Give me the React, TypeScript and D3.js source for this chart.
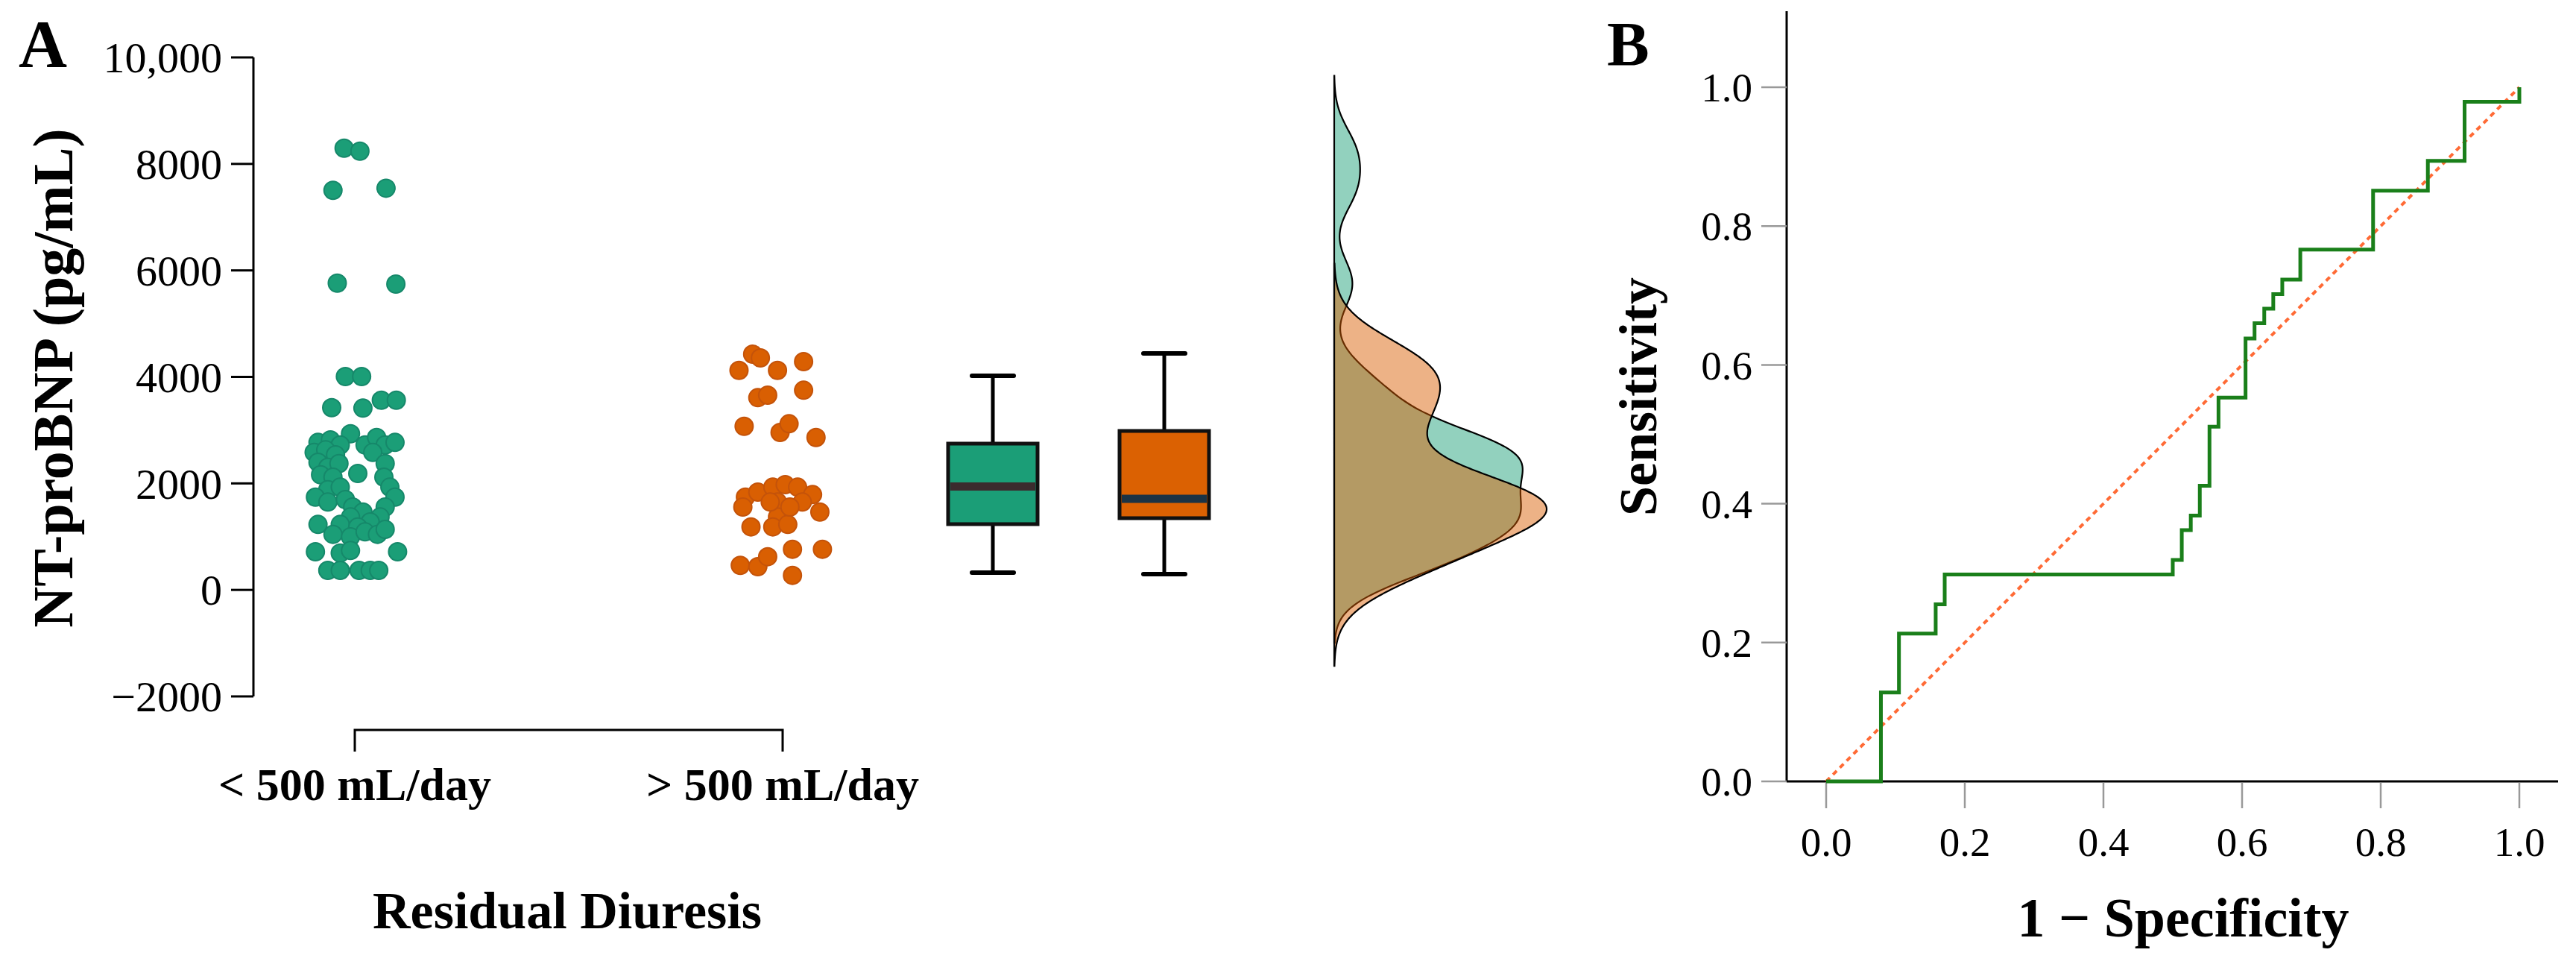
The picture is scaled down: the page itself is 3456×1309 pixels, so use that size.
import React from "react";
import * as d3 from "d3";

const W = 3456;
const H = 1309;
const FONT = "'Liberation Serif', 'Times New Roman', serif";

const GROUPS = ["< 500 mL/day", "> 500 mL/day"];
const GREEN = "#1b9e77";
const ORANGE = "#d95f02";

// strip points, jitter is in fractions of the category step
const lowJitter = [
  -0.025, 0.012, -0.051, 0.073, -0.041, 0.096,
  -0.022, 0.016, 0.062, 0.097, -0.054, 0.019, -0.01,
  -0.086, -0.057, -0.034, -0.095, -0.068, -0.045, -0.086, -0.063, -0.037, -0.08, -0.051,
  0.024, 0.051, 0.071, 0.094, 0.042,
  0.071, 0.068, 0.082, 0.094, 0.071, 0.059,
  0.007,
  -0.063, -0.034, -0.092, -0.063, -0.022, -0.005, 0.019, -0.01, 0.036, -0.034, 0.007,
  -0.051, -0.01, 0.024, 0.053, 0.071,
  -0.086,
  -0.092, -0.034, -0.01, 0.1,
  -0.063, -0.034, 0.01, 0.036, 0.056,
];
const lowValues = [
  8296, 8240, 7504, 7544, 5760, 5744,
  4007, 4007, 3563, 3563, 3423, 3414, 2933,
  2770, 2817, 2723, 2583, 2630, 2537, 2397, 2303, 2373, 2163, 2117,
  2723, 2863, 2723, 2770, 2583,
  2373, 2117, 1930, 1743, 1557, 1370,
  2187,
  1883, 1930, 1743, 1650, 1697, 1557, 1463, 1370, 1277, 1230, 1183,
  1043, 997, 1090, 1043, 1137,
  1230,
  717, 693, 740, 717,
  367, 367, 367, 367, 367,
];

const highJitter = [
  -0.07, -0.052, -0.102, -0.012, 0.049,
  -0.058, -0.035, 0.049,
  -0.09, -0.006, 0.015, 0.078,
  -0.087, -0.058, -0.023, 0.006, 0.035, 0.07, 0.087, -0.093, -0.012, -0.012,
  -0.023, 0.012, 0.046, -0.074, -0.029, 0.017,
  0.023, 0.093, -0.099, -0.058, -0.035, 0.023,
];
const highValues = [
  4427, 4357, 4123, 4123, 4287,
  3610, 3657, 3750,
  3073, 2957, 3120, 2863,
  1743, 1837, 1930, 1977, 1930, 1790, 1463, 1557, 1650, 1370,
  1183, 1230, 1650, 1183, 1650, 1557,
  763, 763, 460, 437, 623, 273,
];

// box plot statistics
const boxMin = [325, 297];
const boxQ1 = [1235, 1347];
const boxMedian = [1942, 1711];
const boxQ3 = [2747, 2985];
const boxMax = [4021, 4441];
const boxFill = [GREEN, "#db6102"];
const medianColor = ["#3b2b2e", "#1b3345"];

const yTicksA = [-2000, 0, 2000, 4000, 6000, 8000, 10000];
const yTickLabelsA = ["\u22122000", "0", "2000", "4000", "6000", "8000", "10,000"];

// ROC corner points (stepped after)
const rocFpr = [
  0, 0.079, 0.105, 0.158, 0.171, 0.5, 0.513, 0.526, 0.539, 0.553, 0.566,
  0.605, 0.618, 0.632, 0.645, 0.658, 0.684, 0.789, 0.868, 0.921, 1.0,
];
const rocTpr = [
  0, 0.128, 0.213, 0.255, 0.298, 0.319, 0.362, 0.383, 0.426, 0.511, 0.553,
  0.638, 0.66, 0.681, 0.702, 0.723, 0.766, 0.851, 0.894, 0.979, 1.0,
];
const rocTicks = [0, 0.2, 0.4, 0.6, 0.8, 1.0];

// gaussian kde, bandwidth like R's bw.nrd0, cut = 3
function kde(values: number[]): [number, number][] {
  const sorted = [...values].sort(d3.ascending);
  const n = values.length;
  const sd = d3.deviation(values) as number;
  const iqr = (d3.quantile(sorted, 0.75) as number) - (d3.quantile(sorted, 0.25) as number);
  const bw = 0.9 * Math.min(sd, iqr / 1.34) * Math.pow(n, -0.2);
  const lo = (d3.min(values) as number) - 3 * bw;
  const hi = (d3.max(values) as number) + 3 * bw;
  return d3.range(513).map((i) => {
    const y = lo + ((hi - lo) * i) / 512;
    const dens =
      d3.mean(values, (v) => Math.exp(-0.5 * ((y - v) / bw) ** 2) / Math.sqrt(2 * Math.PI)) as number;
    return [y, dens / bw];
  });
}

export default function App() {
  // panel A scales
  const yA = d3.scaleLinear().domain([-2000, 10000]).range([934, 77]);
  const xCat = d3.scalePoint<string>().domain(GROUPS).range([476, 1050]);
  const step = xCat.step();
  const xBox = d3.scalePoint<string>().domain(GROUPS).range([1332, 1562]);
  const axisX = 340;
  const boxHalf = 60;
  const capHalf = 28;
  const densBase = 1790;

  const lowDens = kde(lowValues);
  const highDens = kde(highValues);
  const densMax = d3.max([...lowDens, ...highDens], (d) => d[1]) as number;
  const wDens = d3.scaleLinear().domain([0, densMax]).range([0, 285]);
  const densArea = d3
    .area<[number, number]>()
    .y((d) => yA(d[0]))
    .x0(densBase)
    .x1((d) => densBase + wDens(d[1]))
    .curve(d3.curveMonotoneY);

  // panel B scales
  const xB = d3.scaleLinear().domain([0, 1]).range([2450, 3380]);
  const yB = d3.scaleLinear().domain([0, 1]).range([1048, 117]);
  const bAxisX = 2397;
  const rocLine = d3
    .line<number>()
    .x((_, i) => xB(rocFpr[i]))
    .y((d) => yB(d))
    .curve(d3.curveStepAfter);
  const diag = d3.line<number>().x((d) => xB(d)).y((d) => yB(d));

  const bold = { fontFamily: FONT, fontWeight: 700 };

  return (
    <svg
      width={W}
      height={H}
      viewBox={`0 0 ${W} ${H}`}
      style={{ position: "absolute", left: 0, top: 0, display: "block", background: "#fff" }}
    >
      <rect width={W} height={H} fill="#fff" />

      {/* ---------- panel A ---------- */}
      <text x={25} y={90} fontSize={90} {...bold}>A</text>

      <line x1={axisX} x2={axisX} y1={yA(10000)} y2={yA(-2000)} stroke="#000" strokeWidth={3} />
      {yTicksA.map((t, i) => (
        <g key={t}>
          <line x1={axisX - 30} x2={axisX} y1={yA(t)} y2={yA(t)} stroke="#000" strokeWidth={3} />
          <text
            x={axisX - 42}
            y={yA(t)}
            dy="0.35em"
            textAnchor="end"
            fontSize={58}
            fontFamily={FONT}
          >
            {yTickLabelsA[i]}
          </text>
        </g>
      ))}
      <text transform="translate(97,507) rotate(-90)" textAnchor="middle" fontSize={76} {...bold}>
        NT-proBNP (pg/mL)
      </text>

      {/* category bracket */}
      <path
        d={`M${xCat(GROUPS[0])},1008V979H${xCat(GROUPS[1])}V1008`}
        fill="none"
        stroke="#000"
        strokeWidth={3}
      />
      {GROUPS.map((g) => (
        <text key={g} x={xCat(g)} y={1073} textAnchor="middle" fontSize={62} {...bold}>
          {g}
        </text>
      ))}
      <text x={761} y={1245} textAnchor="middle" fontSize={70} {...bold}>
        Residual Diuresis
      </text>

      {/* strip points */}
      {lowValues.map((v, i) => (
        <circle
          key={`l${i}`}
          cx={(xCat(GROUPS[0]) as number) + lowJitter[i] * step}
          cy={yA(v)}
          r={12}
          fill={GREEN}
          stroke="#16886a"
          strokeWidth={2}
        />
      ))}
      {highValues.map((v, i) => (
        <circle
          key={`h${i}`}
          cx={(xCat(GROUPS[1]) as number) + highJitter[i] * step}
          cy={yA(v)}
          r={12}
          fill={ORANGE}
          stroke="#c4530a"
          strokeWidth={2}
        />
      ))}

      {/* box plots */}
      {GROUPS.map((g, i) => {
        const cx = xBox(g) as number;
        return (
          <g key={g}>
            <line x1={cx} x2={cx} y1={yA(boxMax[i])} y2={yA(boxQ3[i])} stroke="#000" strokeWidth={5} />
            <line x1={cx} x2={cx} y1={yA(boxQ1[i])} y2={yA(boxMin[i])} stroke="#000" strokeWidth={5} />
            <line
              x1={cx - capHalf}
              x2={cx + capHalf}
              y1={yA(boxMax[i])}
              y2={yA(boxMax[i])}
              stroke="#000"
              strokeWidth={6}
              strokeLinecap="round"
            />
            <line
              x1={cx - capHalf}
              x2={cx + capHalf}
              y1={yA(boxMin[i])}
              y2={yA(boxMin[i])}
              stroke="#000"
              strokeWidth={6}
              strokeLinecap="round"
            />
            <rect
              x={cx - boxHalf}
              y={yA(boxQ3[i])}
              width={boxHalf * 2}
              height={yA(boxQ1[i]) - yA(boxQ3[i])}
              fill={boxFill[i]}
              stroke="#111"
              strokeWidth={5}
            />
            <line
              x1={cx - boxHalf + 3}
              x2={cx + boxHalf - 3}
              y1={yA(boxMedian[i])}
              y2={yA(boxMedian[i])}
              stroke={medianColor[i]}
              strokeWidth={11}
            />
          </g>
        );
      })}

      {/* marginal densities */}
      <path d={densArea(lowDens) ?? ""} fill={GREEN} fillOpacity={0.48} stroke="#000" strokeWidth={2.2} />
      <path d={densArea(highDens) ?? ""} fill={ORANGE} fillOpacity={0.48} stroke="#000" strokeWidth={2.2} />

      {/* ---------- panel B ---------- */}
      <text x={2156} y={88} fontSize={85} {...bold}>B</text>

      <line x1={bAxisX} x2={bAxisX} y1={15} y2={yB(0)} stroke="#000" strokeWidth={3} />
      <line x1={bAxisX} x2={3432} y1={yB(0)} y2={yB(0)} stroke="#000" strokeWidth={3} />
      {rocTicks.map((t) => (
        <g key={`y${t}`}>
          <line x1={bAxisX - 34} x2={bAxisX} y1={yB(t)} y2={yB(t)} stroke="#999" strokeWidth={2.5} />
          <text
            x={bAxisX - 46}
            y={yB(t)}
            dy="0.35em"
            textAnchor="end"
            fontSize={55}
            fontFamily={FONT}
          >
            {d3.format(".1f")(t)}
          </text>
        </g>
      ))}
      {rocTicks.map((t) => (
        <g key={`x${t}`}>
          <line x1={xB(t)} x2={xB(t)} y1={yB(0) + 2} y2={yB(0) + 36} stroke="#999" strokeWidth={2.5} />
          <text x={xB(t)} y={1148} textAnchor="middle" fontSize={55} fontFamily={FONT}>
            {d3.format(".1f")(t)}
          </text>
        </g>
      ))}

      <path
        d={diag([0, 1]) ?? ""}
        fill="none"
        stroke="#ff6a35"
        strokeWidth={4}
        strokeDasharray="7,6"
      />
      <path d={rocLine(rocTpr) ?? ""} fill="none" stroke="#1a7f1a" strokeWidth={5} />

      <text transform="translate(2222,532) rotate(-90)" textAnchor="middle" fontSize={72} {...bold}>
        Sensitivity
      </text>
      <text x={2929} y={1256} textAnchor="middle" fontSize={74} {...bold}>
        1 {"\u2212"} Specificity
      </text>
    </svg>
  );
}
